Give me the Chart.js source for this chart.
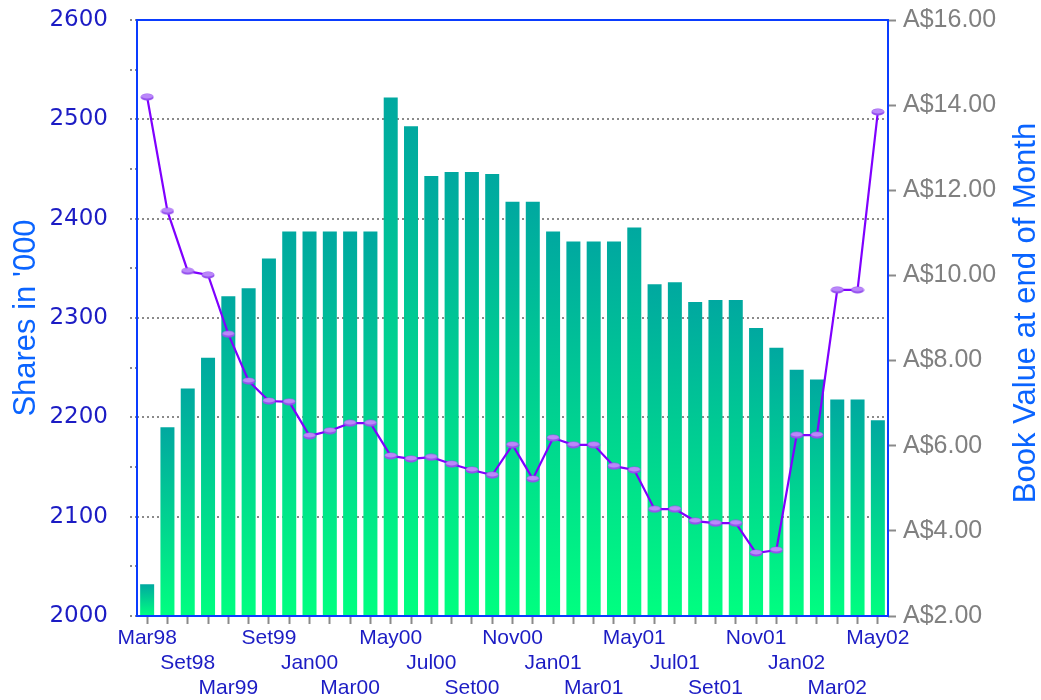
<!DOCTYPE html>
<html>
<head>
<meta charset="utf-8">
<script src="https://cdn.jsdelivr.net/npm/chart.js@4.4.1/dist/chart.umd.min.js"></script>
<style>
  html, body { margin: 0; padding: 0; background: #fff; }
</style>
</head>
<body>
<canvas id="myChart" width="1041" height="700"></canvas>
<script>
// categories (only every other one is labelled on the axis)
const months = [
    'Mar98', 'Jun98', 'Set98', 'Dec98', 'Mar99', 'Jun99', 'Set99', 'Nov99',
    'Jan00', 'Feb00', 'Mar00', 'Apr00', 'May00', 'Jun00', 'Jul00', 'Aug00',
    'Set00', 'Oct00', 'Nov00', 'Dec00', 'Jan01', 'Feb01', 'Mar01', 'Apr01',
    'May01', 'Jun01', 'Jul01', 'Aug01', 'Set01', 'Oct01', 'Nov01', 'Dec01',
    'Jan02', 'Feb02', 'Mar02', 'Apr02', 'May02'
];

// shares on issue, in '000 (left axis)
const shares = [
    2032, 2190, 2229, 2260, 2322, 2330, 2360, 2387, 2387, 2387, 2387, 2387,
    2522, 2493, 2443, 2447, 2447, 2445, 2417, 2417, 2387, 2377, 2377, 2377,
    2391, 2334, 2336, 2316, 2318, 2318, 2290, 2270, 2248, 2238, 2218, 2218, 2197
];

// book value at end of month, A$ (right axis)
const bookValue = [
    14.19, 11.51, 10.10, 10.01, 8.62, 7.52, 7.05, 7.03, 6.23, 6.35, 6.53, 6.53,
    5.76, 5.69, 5.73, 5.57, 5.43, 5.31, 6.02, 5.22, 6.18, 6.02, 6.02, 5.52,
    5.43, 4.51, 4.51, 4.23, 4.18, 4.18, 3.48, 3.55, 6.25, 6.25, 9.66, 9.66, 13.84
];

const leftTitle = "Shares in '000";
const rightTitle = 'Book Value at end of Month';

const axisBlue = '#0a3cff';
const titleBlue = '#0a64ff';
const labelBlue = '#1c1cc4';
const grey = '#8a8a8a';

// little lilac ellipse used as the point marker
const marker = document.createElement('canvas');
marker.width = 14;
marker.height = 8;
const mctx = marker.getContext('2d');
mctx.fillStyle = '#9450ee';
mctx.beginPath();
mctx.ellipse(7, 4, 6.5, 3.6, 0, 0, Math.PI * 2);
mctx.fill();
mctx.fillStyle = '#bb88fa';
mctx.beginPath();
mctx.ellipse(7, 3.2, 5.6, 2.3, 0, 0, Math.PI * 2);
mctx.fill();

// each bar fades from teal at its top to bright green at the base
function barGradient(context) {
    const chart = context.chart;
    const area = chart.chartArea;
    if (!area || context.type !== 'data') {
        return '#00c890';
    }
    const top = chart.scales.y.getPixelForValue(context.raw);
    const g = chart.ctx.createLinearGradient(0, top, 0, area.bottom);
    g.addColorStop(0, '#00a8a0');
    g.addColorStop(1, '#00ff80');
    return g;
}

// blue frame round the plot area + right-hand title reading upwards
const framePlugin = {
    id: 'frame',
    afterDatasetsDraw(chart) {
        const { ctx, chartArea: a } = chart;
        ctx.save();
        ctx.strokeStyle = axisBlue;
        ctx.lineWidth = 2;
        ctx.strokeRect(a.left, a.top, a.right - a.left, a.bottom - a.top);
        ctx.restore();
    },
    afterDraw(chart) {
        const { ctx, chartArea: a } = chart;
        ctx.save();
        ctx.translate(chart.width - 6, (a.top + a.bottom) / 2 - 5);
        ctx.rotate(-Math.PI / 2);
        ctx.font = '31px "Liberation Sans", Arial, sans-serif';
        ctx.fillStyle = titleBlue;
        ctx.textAlign = 'center';
        ctx.textBaseline = 'alphabetic';
        ctx.fillText(rightTitle, 0, 0);
        ctx.restore();
    }
};

const ctx = document.getElementById('myChart').getContext('2d');

new Chart(ctx, {
    type: 'bar',
    data: {
        labels: months,
        datasets: [
            {
                type: 'line',
                label: rightTitle,
                data: bookValue,
                yAxisID: 'y1',
                order: 0,
                borderColor: '#7f00ff',
                borderWidth: 2.2,
                tension: 0,
                pointStyle: marker,
                pointRadius: 5
            },
            {
                label: leftTitle,
                data: shares,
                yAxisID: 'y',
                order: 1,
                backgroundColor: barGradient,
                borderWidth: 0,
                barPercentage: 0.69,
                categoryPercentage: 1.0
            }
        ]
    },
    options: {
        responsive: false,
        animation: false,
        devicePixelRatio: 1,
        layout: {
            padding: { top: 20, left: 0, right: 0, bottom: 0 }
        },
        plugins: {
            legend: { display: false },
            tooltip: { enabled: false }
        },
        scales: {
            x: {
                offset: true,
                border: { display: false },
                grid: {
                    offset: false,
                    drawOnChartArea: false,
                    tickColor: grey,
                    tickLength: 8,
                    tickWidth: 2
                },
                ticks: {
                    autoSkip: false,
                    maxRotation: 0,
                    minRotation: 0,
                    padding: 1,
                    color: labelBlue,
                    font: { family: '"Liberation Sans", Arial, sans-serif', size: 21, lineHeight: 1.21 },
                    callback: function(value, index) {
                        if (index % 2) {
                            return '';
                        }
                        const row = (index / 2) % 3;
                        const lines = [];
                        for (let i = 0; i < row; i++) {
                            lines.push('');
                        }
                        lines.push(months[index]);
                        return lines;
                    }
                },
                afterFit: function(scale) {
                    scale.height = 84;
                }
            },
            y: {
                position: 'left',
                min: 2000,
                max: 2600,
                border: { display: false, dash: [2, 3] },
                grid: {
                    color: function(c) {
                        const v = c.tick ? c.tick.value : 0;
                        return (v % 100 === 0 && v > 2000 && v < 2600) ? grey : 'transparent';
                    },
                    lineWidth: 2,
                    tickColor: grey,
                    tickLength: 7,
                    tickWidth: 2,
                    tickBorderDash: [2, 3]
                },
                ticks: {
                    stepSize: 50,
                    padding: 22,
                    color: labelBlue,
                    font: { family: '"DejaVu Sans", Verdana, sans-serif', size: 23 },
                    callback: function(value) {
                        return value % 100 === 0 ? String(value) : '';
                    }
                },
                title: {
                    display: true,
                    text: leftTitle,
                    color: titleBlue,
                    padding: { top: 8, bottom: 0 },
                    font: { family: '"Liberation Sans", Arial, sans-serif', size: 31 }
                },
                afterFit: function(scale) {
                    scale.width = 137;
                    scale.paddingTop = 14;
                    scale.paddingBottom = 14;
                }
            },
            y1: {
                position: 'right',
                min: 2,
                max: 16,
                border: { display: false },
                grid: {
                    drawOnChartArea: false,
                    tickColor: grey,
                    tickLength: 8,
                    tickWidth: 2
                },
                ticks: {
                    stepSize: 2,
                    padding: 7,
                    color: '#808080',
                    font: { family: '"Liberation Sans", Arial, sans-serif', size: 25 },
                    callback: function(value) {
                        return 'A$' + value.toFixed(2);
                    }
                },
                afterFit: function(scale) {
                    scale.width = 153;
                    scale.paddingTop = 14;
                    scale.paddingBottom = 14;
                }
            }
        }
    },
    plugins: [framePlugin]
});
</script>
</body>
</html>
